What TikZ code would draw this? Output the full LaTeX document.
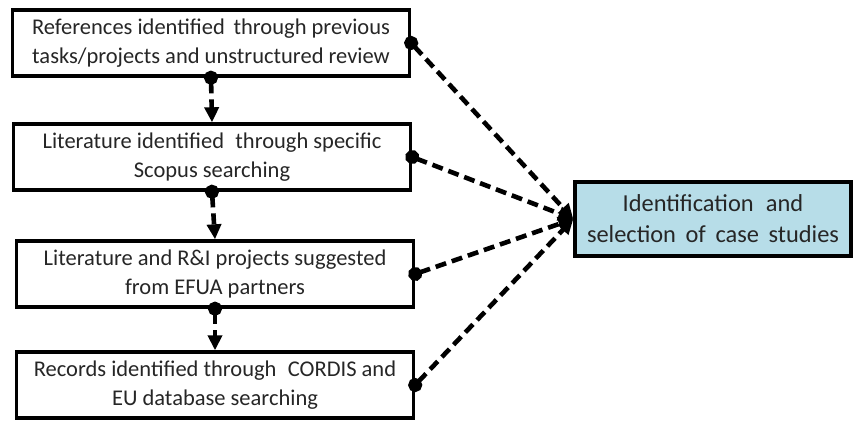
\documentclass[tikz,border=0pt]{standalone}
\usepackage{fontspec}
\setmainfont{Carlito}
\usepackage[svgnames]{xcolor}
\usepackage{tikz}
\usetikzlibrary{arrows}
\usetikzlibrary{arrows.meta}
\pgfdeclarelayer{edgelayer}
\pgfdeclarelayer{nodelayer}
\pgfsetlayers{edgelayer,nodelayer,main}
\definecolor{casefill}{RGB}{183,221,232}
\tikzstyle{none}=[inner sep=0pt]
\tikzstyle{source}=[draw, line width=3.4pt, minimum width=397pt, minimum height=66pt, align=center, text=black!85, font=\fontsize{22.5}{29}\selectfont]
\tikzstyle{target}=[source, fill=casefill, minimum width=276pt, minimum height=74pt, font=\fontsize{24.4}{31}\selectfont]
\tikzstyle{flow}=[line width=4.6pt, dash pattern=on 11pt off 6pt, {Circle[length=14pt]}-{Triangle[length=15pt,width=14pt]}, shorten <=-7pt]

\begin{document}
\begin{tikzpicture}[x=1pt, y=-1pt]
					\useasboundingbox (0, 0) rectangle (853, 421);
					\begin{pgfonlayer}{nodelayer}
						\node [style=source] (0) at (211, 43) {References identified\, through previous\\tasks/projects and unstructured review};
						\node [style=source] (1) at (212, 157) {Literature identified\; through specific\\Scopus searching};
						\node [style=source] (2) at (215, 274) {Literature and R\&I projects suggested\\from EFUA partners};
						\node [style=source] (3) at (215, 385) {Records identified through\; CORDIS and\\EU database searching};
						\node [style=target] (4) at (713, 219) {Identification\; and\\selection\, of\, case\, studies};
					\end{pgfonlayer}
					\begin{pgfonlayer}{edgelayer}
						\draw [style=flow] (0.south) to (1.north);
						\draw [style=flow] (1.south) to (2.north);
						\draw [style=flow] (2.south) to (3.north);
						\draw [style=flow] (0.east) to (4.west);
						\draw [style=flow] (1.east) to (4.west);
						\draw [style=flow] (2.east) to (4.west);
						\draw [style=flow] (3.east) to (4.west);
					\end{pgfonlayer}
				\end{tikzpicture}
\end{document}
